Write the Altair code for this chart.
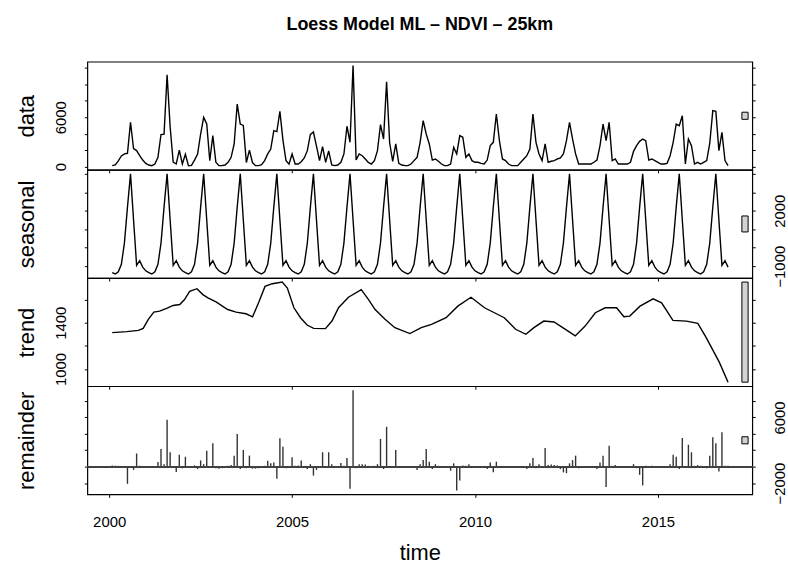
import altair as alt
import pandas as pd

FONT = "Liberation Sans"
TITLE = "Loess Model ML – NDVI – 25km"

# monthly series, first observation = Feb 2000
START_YEAR = 2000
START_MONTH = 2

data_vals = [
    120, 200, 700, 1300, 1550, 1620, 5370, 2200, 1950, 1350, 800,          # 2000 (Feb-Dec)
    400, 200, 120, 320, 1130, 3900, 3950, 11150, 4800, 550, 320, 2000,     # 2001
    320, 1500, 120, 150, 800, 1530, 3960, 5980, 5170, 730, 3760, 530,      # 2002
    120, 120, 200, 530, 1130, 2750, 7600, 5170, 5000, 500, 2000, 500,      # 2003
    120, 120, 240, 730, 1550, 2140, 4360, 4250, 6700, 3220, 730, 320,      # 2004
    1540, 320, 320, 600, 1050, 1940, 3900, 4200, 2500, 730, 2420, 530,     # 2005
    1900, 200, 120, 200, 530, 1540, 4900, 2950, 12250, 800, 1540, 1330,    # 2006
    930, 520, 320, 730, 1940, 5100, 3350, 10300, 2900, 650, 2750, 400,     # 2007
    200, 120, 120, 320, 730, 1130, 2950, 5580, 3960, 2750, 800, 930,       # 2008
    650, 320, 120, 120, 320, 2340, 1540, 3760, 3560, 1130, 1540, 730,      # 2009
    530, 530, 400, 320, 800, 2550, 2950, 6380, 3150, 930, 730, 320,        # 2010
    120, 120, 120, 530, 930, 1330, 2140, 6380, 2950, 1540, 730, 2750,      # 2011
    530, 650, 730, 930, 1050, 1540, 3150, 5370, 3350, 1540, 320, 320,      # 2012
    320, 320, 320, 530, 800, 2550, 5170, 3150, 5370, 730, 930, 320,        # 2013
    320, 320, 320, 530, 1860, 2550, 3070, 3350, 3150, 800, 930, 730,       # 2014
    530, 320, 320, 400, 1330, 2950, 5170, 4970, 6180, 320, 3350, 2550,     # 2015
    320, 530, 320, 530, 730, 2830, 6790, 6700, 1940, 4160, 730, 120,       # 2016
]

seasonal_vals = [
    -1350, -1420, -1300, -900, 250, 2200, 4000, 1500, -950, -700, -1050,          # 2000
    -1250, -1350, -1420, -1300, -900, 250, 2200, 4000, 1500, -950, -700, -1050,   # 2001
    -1250, -1350, -1420, -1300, -900, 250, 2200, 4000, 1500, -950, -700, -1050,   # 2002
    -1250, -1350, -1420, -1300, -900, 250, 2200, 4000, 1500, -950, -700, -1050,   # 2003
    -1250, -1350, -1420, -1300, -900, 250, 2200, 4000, 1500, -950, -700, -1050,   # 2004
    -1250, -1350, -1420, -1300, -900, 250, 2200, 4000, 1500, -950, -700, -1050,   # 2005
    -1250, -1350, -1420, -1300, -900, 250, 2200, 4000, 1500, -950, -700, -1050,   # 2006
    -1250, -1350, -1420, -1300, -900, 250, 2200, 4000, 1500, -950, -700, -1050,   # 2007
    -1250, -1350, -1420, -1300, -900, 250, 2200, 4000, 1500, -950, -700, -1050,   # 2008
    -1250, -1350, -1420, -1300, -900, 250, 2200, 4000, 1500, -950, -700, -1050,   # 2009
    -1250, -1350, -1420, -1300, -900, 250, 2200, 4000, 1500, -950, -700, -1050,   # 2010
    -1250, -1350, -1420, -1300, -900, 250, 2200, 4000, 1500, -950, -700, -1050,   # 2011
    -1250, -1350, -1420, -1300, -900, 250, 2200, 4000, 1500, -950, -700, -1050,   # 2012
    -1250, -1350, -1420, -1300, -900, 250, 2200, 4000, 1500, -950, -700, -1050,   # 2013
    -1250, -1350, -1420, -1300, -900, 250, 2200, 4000, 1500, -950, -700, -1050,   # 2014
    -1250, -1350, -1420, -1300, -900, 250, 2200, 4000, 1500, -950, -700, -1050,   # 2015
    -1250, -1350, -1420, -1300, -900, 250, 2200, 4000, 1500, -950, -700, -1050,   # 2016
]

remainder_vals = [
    150, 100, 100, -100, -50, -2100, 50, -400, 1600, 100, 50,                 # 2000
    50, -50, 50, -50, 550, 2150, 300, 5710, 1750, -100, -650, 1460,            # 2001
    -200, 1200, -100, -50, 150, -300, 750, 300, 1940, -150, 2840, -200,        # 2002
    -250, -200, 50, 100, 200, 1340, 3970, -300, 2030, -200, 1340, -250,        # 2003
    -250, -200, 50, 100, 730, 400, 500, -1490, 3450, 2430, -200, -150,         # 2004
    1140, 100, 150, 750, -150, -300, 300, -1090, -400, -100, 1750, -100,       # 2005
    1750, 300, 50, -100, 450, 100, 1060, -2710, 9320, -200, 300, 300,          # 2006
    250, 100, -100, 100, 300, 3370, -300, 4860, -100, -100, 2030, 50,          # 2007
    50, 50, 50, 50, -100, -400, 300, 800, 2150, 600, -300, 300,                # 2008
    100, 50, -50, -100, -500, 400, -2900, -1700, 150, 100, 300, 50,            # 2009
    50, 50, -100, 50, -300, 500, -700, 600, 50, 50, 50, -50,                   # 2010
    50, 50, -50, 50, 50, -300, 400, 1060, -200, 300, -100, 2270,               # 2011
    200, 250, 200, 150, -300, -700, -800, 400, 800, 1340, -200, 50,            # 2012
    50, 50, -50, 50, -300, 500, 1340, -2500, 2550, 100, 200, 50,               # 2013
    50, -50, 50, 50, 300, -200, -1000, -2300, 100, 50, 100, 50,                # 2014
    -50, 50, -50, 50, 300, 1460, 1200, -300, 3490, -100, 2670, 1750,           # 2015
    100, 200, 100, 50, -200, 1340, 3570, 2840, -600, 4180, 100, 100,           # 2016
]

trend_t = [2000.083, 2000.48, 2000.80, 2000.93, 2001.07, 2001.22, 2001.38, 2001.57, 2001.75,
           2001.93, 2002.06, 2002.20, 2002.40, 2002.56, 2002.70, 2002.92, 2003.24, 2003.47,
           2003.74, 2003.92, 2004.10, 2004.26, 2004.46, 2004.73, 2004.87, 2005.05, 2005.23,
           2005.41, 2005.59, 2005.91, 2006.09, 2006.27, 2006.54, 2006.89, 2007.09, 2007.27,
           2007.54, 2007.81, 2008.22, 2008.53, 2008.81, 2009.21, 2009.53, 2009.89, 2010.26,
           2010.80, 2011.11, 2011.39, 2011.61, 2011.88, 2012.16, 2012.43, 2012.74, 2013.01,
           2013.29, 2013.56, 2013.87, 2014.07, 2014.23, 2014.51, 2014.87, 2015.10, 2015.41,
           2015.78, 2016.09, 2016.32, 2016.68, 2016.917]
trend_v = [1314, 1323, 1334, 1351, 1429, 1491, 1500, 1523, 1549,
           1557, 1600, 1671, 1694, 1643, 1614, 1580, 1514, 1491,
           1477, 1451, 1586, 1714, 1737, 1751, 1700, 1529, 1443,
           1380, 1351, 1349, 1414, 1529, 1620, 1686, 1600, 1514,
           1429, 1357, 1306, 1357, 1386, 1443, 1543, 1620, 1529,
           1443, 1343, 1300, 1357, 1414, 1406, 1351, 1286, 1371,
           1486, 1529, 1529, 1451, 1457, 1543, 1606, 1571, 1420,
           1414, 1394, 1271, 1057, 886]

# axes
x_domain = [1999.403, 2017.579]
x_ticks = [2000, 2005, 2010, 2015]
panels = ["data", "seasonal", "trend", "remainder"]
y_domains = [[-390, 12730], [-1640, 4215], [851, 1786], [-3390, 9810]]
y_ticks = [[0, 2000, 4000, 6000, 8000, 10000, 12000],
           [-1000, 0, 1000, 2000, 3000, 4000],
           [1000, 1200, 1400, 1600],
           [-2000, 0, 2000, 4000, 6000, 8000]]
y_labels = [[0, 6000], [-1000, 2000], [1000, 1400], [-2000, 6000]]
label_side = ["left", "right", "left", "right"]

# range bars (same height in data units on every panel)
bar_height = 865
bar_x = [2017.295, 2017.465]

W, H = 670, 109

n = len(data_vals)
time = [START_YEAR + (START_MONTH - 1 + i) / 12 for i in range(n)]
series = pd.DataFrame({"t": time, "data": data_vals, "seasonal": seasonal_vals,
                       "remainder": remainder_vals, "zero": [0] * n})
trend_df = pd.DataFrame({"t": trend_t, "trend": trend_v})


def y_axis(orient, idx, with_labels, title):
    kw = dict(orient=orient, values=y_ticks[idx], format="d", tickSize=3, tickColor="black",
              tickWidth=1, domain=False, grid=False, labelAngle=270, labelAlign="center",
              labelBaseline="middle", labelPadding=24, labelFont=FONT, labelFontSize=15,
              labelColor="black", labelOverlap=False, labelFlush=False)
    if with_labels:
        cond = " || ".join(f"datum.value == {v}" for v in y_labels[idx])
        kw["labelExpr"] = f"({cond}) ? datum.label : ''"
    else:
        kw["labels"] = False
    if title:
        kw.update(title=title, titleFont=FONT, titleFontSize=22, titleFontWeight="normal",
                  titleColor="black", titleAngle=270, titleAlign="center",
                  titleBaseline="alphabetic", titleX=-54, titleY=H / 2)
    else:
        kw["title"] = None
    return alt.Axis(**kw)


def x_axis(bottom):
    if bottom:
        return alt.Axis(values=x_ticks, format="d", tickSize=3, tickColor="black", domain=False,
                        grid=False, labelFont=FONT, labelFontSize=15, labelColor="black",
                        labelPadding=17, labelFlush=False, title="time", titleFont=FONT,
                        titleFontSize=22, titleFontWeight="normal", titleColor="black",
                        titleX=W / 2, titleY=66, titleAlign="center",
                        titleBaseline="alphabetic")
    return alt.Axis(values=x_ticks, labels=False, tickSize=3, tickColor="black", domain=False,
                    grid=False, title=None)


def panel(idx):
    name = panels[idx]
    ys = alt.Scale(domain=y_domains[idx], nice=False, zero=False)
    xs = alt.Scale(domain=x_domain, nice=False, zero=False)
    bottom = idx == len(panels) - 1
    left_lab = label_side[idx] == "left"
    left = y_axis("left", idx, left_lab, name)
    right = y_axis("right", idx, not left_lab, None)
    xax = x_axis(bottom)

    if name == "trend":
        main = alt.Chart(trend_df).mark_line(color="black", strokeWidth=1.4).encode(
            x=alt.X("t:Q", scale=xs, axis=xax),
            y=alt.Y("trend:Q", scale=ys, axis=left))
        layers = [main]
    elif name == "remainder":
        main = alt.Chart(series).mark_rule(color="#333", strokeWidth=1.4).encode(
            x=alt.X("t:Q", scale=xs, axis=xax),
            y=alt.Y("remainder:Q", scale=ys, axis=left),
            y2="zero:Q")
        zero = alt.Chart(series).mark_rule(color="#444", strokeWidth=1).encode(
            y=alt.Y("zero:Q", scale=ys, axis=None))
        layers = [main, zero]
    else:
        main = alt.Chart(series).mark_line(color="black", strokeWidth=1.4).encode(
            x=alt.X("t:Q", scale=xs, axis=xax),
            y=alt.Y(f"{name}:Q", scale=ys, axis=left))
        layers = [main]

    mid = (y_domains[idx][0] + y_domains[idx][1]) / 2
    bar_df = pd.DataFrame({"x1": [bar_x[0]], "x2": [bar_x[1]],
                           "y1": [mid - bar_height / 2], "y2": [mid + bar_height / 2]})
    bar = alt.Chart(bar_df).mark_rect(fill="#d3d3d3", stroke="black", strokeWidth=1).encode(
        x=alt.X("x1:Q", scale=xs, axis=xax), x2="x2:Q",
        y=alt.Y("y1:Q", scale=ys, axis=right), y2="y2:Q")
    layers.append(bar)

    ch = alt.layer(*layers).resolve_axis(y="independent").properties(width=W, height=H)
    if idx == 0:
        ch = ch.properties(title=alt.TitleParams(
            text=TITLE, font=FONT, fontSize=18, fontWeight="bold", color="black",
            anchor="middle", frame="group", baseline="alphabetic", offset=14))
    return ch


chart = alt.vconcat(*[panel(i) for i in range(4)], spacing=0, bounds="flush").properties(
    padding={"left": 15, "top": 13, "right": 0, "bottom": 0}
).configure_view(stroke="black", strokeWidth=1.2)

chart.save("out.html", embed_options={"renderer": "svg", "actions": False})
